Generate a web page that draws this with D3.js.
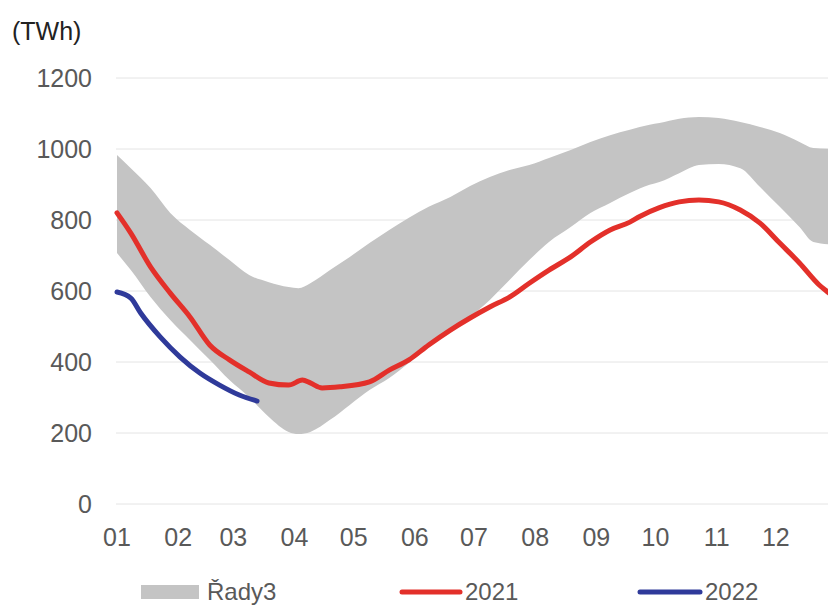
<!DOCTYPE html>
<html>
<head>
<meta charset="utf-8">
<script src="https://cdn.jsdelivr.net/npm/d3@7"></script>
<style>
  body { margin: 0; background: #fff; }
  svg { display: block; font-family: "Liberation Sans", Arial, sans-serif; }
</style>
</head>
<body>
<div id="chart"></div>
<script>
// Month tick labels
var monthLabels = ["01", "02", "03", "04", "05", "06", "07", "08", "09", "10", "11", "12"];
var yTicks = [0, 200, 400, 600, 800, 1000, 1200];

// Grey band (Řady3): min / max range
var bandDates = ["01-01","01-08","01-18","01-28","02-07","02-17","02-27","03-09","03-19","03-29",
                 "04-03","04-09","04-19","04-29","05-09","05-19","05-29","06-08","06-19","06-29",
                 "07-09","07-19","07-29","08-08","08-19","08-29","09-08","09-18","09-28","10-03",
                 "10-13","10-23","11-02","11-13","11-23","12-03","12-13","12-20","12-31"];
var bandHigh = [983,946,890,820,772,730,687,645,625,611,
                608,622,659,696,735,772,806,837,865,896,
                921,941,955,975,997,1020,1039,1054,1068,1073,
                1085,1090,1087,1076,1062,1045,1020,1003,1000];
var bandLow = [707,659,583,518,462,406,349,301,245,203,
               197,203,237,279,321,355,397,442,485,527,
               575,631,687,738,780,820,848,876,899,907,
               932,955,958,946,893,837,780,738,730];

// 2021 line
var dates2021 = ["01-01","01-08","01-18","01-28","02-07","02-17","02-27","03-09","03-19","03-29",
                 "04-05","04-09","04-15","04-24","05-09","05-19","05-29","06-08","06-19","06-29",
                 "07-09","07-19","07-29","08-08","08-19","08-29","09-08","09-18","09-23","10-03",
                 "10-13","10-23","11-02","11-13","11-23","12-03","12-13","12-23","12-28","12-31"];
var values2021 = [820,763,668,594,527,448,406,372,341,335,
                  349,341,327,330,344,377,406,448,490,524,
                  555,583,622,659,696,738,772,794,810,835,
                  851,856,851,828,791,735,679,617,594,580];

// 2022 line
var dates2022 = ["01-01","01-08","01-13","01-23","02-02","02-12","02-22","03-04","03-13"];
var values2022 = [597,580,538,470,414,369,335,307,290];

var width = 828;
var height = 606;
var parse = d3.timeParse("%Y-%m-%d");
function toDate(s) { return parse("2021-" + s); }

var svg = d3.select("#chart")
    .append("svg")
    .attr("width", width)
    .attr("height", height);

// Scales (Dec 31 falls just past the right edge, like the cropped original)
var x = d3.scaleTime()
    .domain([toDate("01-01"), toDate("12-31")])
    .range([117, 835]);
var y = d3.scaleLinear()
    .domain([0, 1200])
    .range([504, 78]);

// Gridlines
svg.append("g")
    .selectAll("line")
    .data(yTicks)
    .join("line")
      .attr("x1", 116)
      .attr("x2", width)
      .attr("y1", d => y(d))
      .attr("y2", d => y(d))
      .attr("stroke", "#e4e4e4")
      .attr("stroke-width", 1);

// Y labels
svg.append("g")
    .selectAll("text")
    .data(yTicks)
    .join("text")
      .attr("x", 92)
      .attr("y", d => y(d))
      .attr("dy", "0.35em")
      .attr("text-anchor", "end")
      .attr("font-size", 25)
      .attr("fill", "#595959")
      .text(d => d);

svg.append("text")
    .attr("x", 12)
    .attr("y", 40)
    .attr("font-size", 25)
    .attr("fill", "#222")
    .text("(TWh)");

// X labels at month starts
svg.append("g")
    .selectAll("text")
    .data(monthLabels)
    .join("text")
      .attr("x", d => x(toDate(d + "-01")))
      .attr("y", 546)
      .attr("text-anchor", "middle")
      .attr("font-size", 25)
      .attr("fill", "#595959")
      .text(d => d);

// Band
var bandData = bandDates.map((d, i) => ({date: toDate(d), lo: bandLow[i], hi: bandHigh[i]}));
var area = d3.area()
    .x(d => x(d.date))
    .y0(d => y(d.lo))
    .y1(d => y(d.hi))
    .curve(d3.curveMonotoneX);
svg.append("path")
    .datum(bandData)
    .attr("fill", "#c4c4c4")
    .attr("d", area);

// Lines
var line = d3.line()
    .x(d => x(d.date))
    .y(d => y(d.v))
    .curve(d3.curveMonotoneX);

var data2021 = dates2021.map((d, i) => ({date: toDate(d), v: values2021[i]}));
var data2022 = dates2022.map((d, i) => ({date: toDate(d), v: values2022[i]}));

svg.append("path")
    .datum(data2021)
    .attr("fill", "none")
    .attr("stroke", "#e3302a")
    .attr("stroke-width", 5)
    .attr("stroke-linecap", "round")
    .attr("stroke-linejoin", "round")
    .attr("d", line);

svg.append("path")
    .datum(data2022)
    .attr("fill", "none")
    .attr("stroke", "#2f3a9a")
    .attr("stroke-width", 5)
    .attr("stroke-linecap", "round")
    .attr("stroke-linejoin", "round")
    .attr("d", line);

// Legend (kept a little above the bottom edge so descenders stay visible)
var legendY = 592;
svg.append("rect")
    .attr("x", 141)
    .attr("y", legendY - 7)
    .attr("width", 58)
    .attr("height", 14)
    .attr("fill", "#c4c4c4");
svg.append("text")
    .attr("x", 207)
    .attr("y", legendY)
    .attr("dy", "0.35em")
    .attr("font-size", 24)
    .attr("fill", "#595959")
    .text("Řady3");

var legendLines = [
    {x1: 402, x2: 460, color: "#e3302a", label: "2021"},
    {x1: 640, x2: 700, color: "#2f3a9a", label: "2022"}
];
legendLines.forEach(function (l) {
    svg.append("line")
        .attr("x1", l.x1)
        .attr("x2", l.x2)
        .attr("y1", legendY)
        .attr("y2", legendY)
        .attr("stroke", l.color)
        .attr("stroke-width", 5)
        .attr("stroke-linecap", "round");
    svg.append("text")
        .attr("x", l.x2 + 5)
        .attr("y", legendY)
        .attr("dy", "0.35em")
        .attr("font-size", 24)
        .attr("fill", "#595959")
        .text(l.label);
});
</script>
</body>
</html>
